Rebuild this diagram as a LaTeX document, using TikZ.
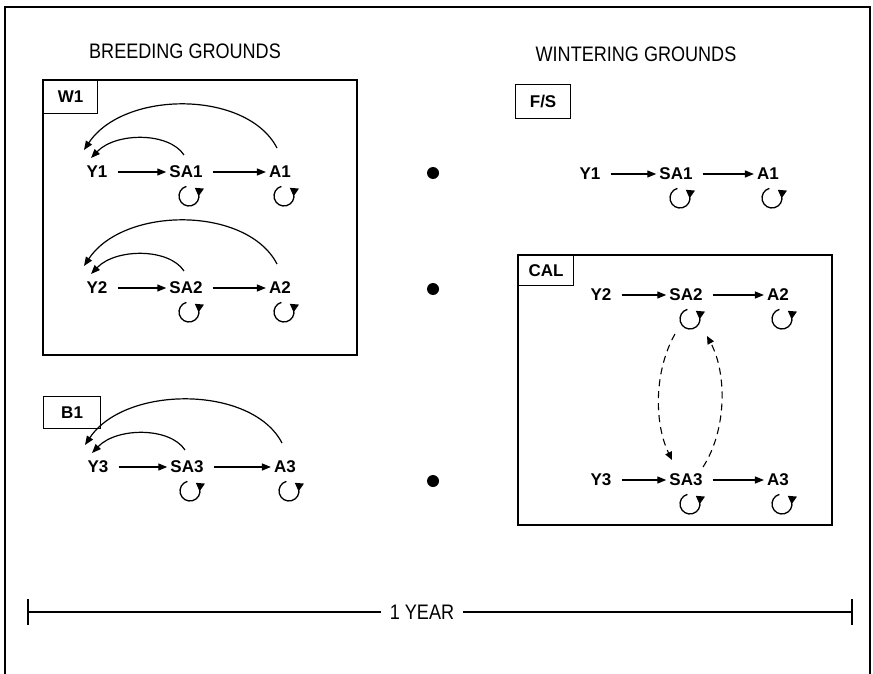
\documentclass[tikz,border=0pt]{standalone}
\usepackage{fontspec}
\setmainfont{Liberation Sans}
\newfontfamily\condsans[FakeStretch=0.86]{Liberation Sans}
\usetikzlibrary{arrows.meta,calc}

\begin{document}
\begin{tikzpicture}[x=1pt,y=-1pt,
  state/.style={font=\bfseries\fontsize{17}{20}\selectfont, inner sep=2pt},
  tag/.style={draw, line width=1.2pt, anchor=north west, inner sep=0pt,
              font=\bfseries\fontsize{17}{20}\selectfont},
  heading/.style={font=\condsans\fontsize{21}{25}\selectfont},
  frameline/.style={line width=1.6pt},
  panel/.style={line width=1.2pt},
  flow/.style={line width=1.3pt, -{Triangle[length=9pt,width=7pt]},
               shorten <=8pt, shorten >=1pt},
  back/.style={line width=1.2pt, -{Triangle[length=9pt,width=7pt]}},
  swap/.style={line width=1.1pt, dash pattern=on 7pt off 5pt,
               -{Triangle[length=8pt,width=7pt]}},
  stay/.style={line width=1.3pt, -{Triangle[length=8pt,width=9pt]}},
  season/.style={circle, fill, inner sep=0pt, minimum size=12pt},
  pics/selfloop/.style={code={
    \draw[stay] (255:10) arc[start angle=255, end angle=-55, radius=10];}}
]
\useasboundingbox (0,0) rectangle (873,674);

% open frame
\draw[frameline] (5,674) -- (5,7) -- (870,7) -- (870,674);

% headings
\node[heading] (breed) at (185,51) {BREEDING GROUNDS};
\node[heading] (winter) at (636,54) {WINTERING GROUNDS};

% ---------------- breeding grounds ----------------
\draw[panel] (43,80) rectangle (357,355);
\node[tag, minimum width=54pt, minimum height=33pt] (w1) at (43,80) {W1};
\node[tag, minimum width=57pt, minimum height=32pt] (b1) at (43,396) {B1};

% W1, first row
\node[state] (Y1)  at (97,172) {Y1};
\node[state] (SA1) at (186,172) {SA1};
\node[state] (A1)  at (280,172) {A1};
% W1, second row
\node[state] (Y2)  at (97,288) {Y2};
\node[state] (SA2) at (186,288) {SA2};
\node[state] (A2)  at (280,288) {A2};
% B1 row
\node[state] (Y3)  at (98,467) {Y3};
\node[state] (SA3) at (187,467) {SA3};
\node[state] (A3)  at (285,467) {A3};

\foreach \y/\s/\a in {Y1/SA1/A1, Y2/SA2/A2, Y3/SA3/A3}{
  \draw[flow] (\y) -- (\s);
  \draw[flow] (\s) -- (\a);
  \pic at ($(\s)+(3,24)$) {selfloop};
  \pic at ($(\a)+(4,24)$) {selfloop};
  \draw[back] ($(\a)+(-3,-24)$) .. controls +(-30,-58) and +(40,-60) .. ($(\y)+(-13,-22)$);
  \draw[back] ($(\s)+(-2,-17)$) .. controls +(-15,-23) and +(25,-26) .. ($(\y)+(-6,-14)$);
}

% seasonal markers
\node[season] (d1) at (433,173) {};
\node[season] (d2) at (433,289) {};
\node[season] (d3) at (433,481) {};

% ---------------- wintering grounds ----------------
\node[tag, minimum width=55pt, minimum height=34pt] (fs) at (515,84) {F/S};

\node[state] (wY1)  at (590,174) {Y1};
\node[state] (wSA1) at (676,174) {SA1};
\node[state] (wA1)  at (768,174) {A1};

\draw[panel] (518,255) rectangle (832,525);
\node[tag, minimum width=55pt, minimum height=30pt] (cal) at (518,255) {CAL};

\node[state] (wY2)  at (601,295) {Y2};
\node[state] (wSA2) at (686,295) {SA2};
\node[state] (wA2)  at (778,295) {A2};
\node[state] (wY3)  at (601,480) {Y3};
\node[state] (wSA3) at (686,480) {SA3};
\node[state] (wA3)  at (778,480) {A3};

\foreach \y/\s/\a in {wY1/wSA1/wA1, wY2/wSA2/wA2, wY3/wSA3/wA3}{
  \draw[flow] (\y) -- (\s);
  \draw[flow] (\s) -- (\a);
  \pic at ($(\s)+(4,24)$) {selfloop};
  \pic at ($(\a)+(4,24)$) {selfloop};
}

% exchange between the two Californian groups
\draw[swap] ($(wSA2)+(-11,39)$) .. controls +(-21,37) and +(-18,-37) .. ($(wSA3)+(-14,-20)$);
\draw[swap] ($(wSA3)+(17,-13)$) .. controls +(24,-37) and +(20,37) .. ($(wSA2)+(21,41)$);

% one-year time line
\coordinate (tl) at (28,612);
\coordinate (tr) at (852,612);
\node[heading, inner xsep=9pt] (year) at (422,612) {1 YEAR};
\draw[line width=1.1pt] (tl) -- (year.west);
\draw[line width=1.1pt] (year.east) -- (tr);
\draw[line width=1.3pt] ($(tl)+(0,-13)$) -- ($(tl)+(0,13)$);
\draw[line width=1.3pt] ($(tr)+(0,-13)$) -- ($(tr)+(0,13)$);
\end{tikzpicture}
\end{document}
